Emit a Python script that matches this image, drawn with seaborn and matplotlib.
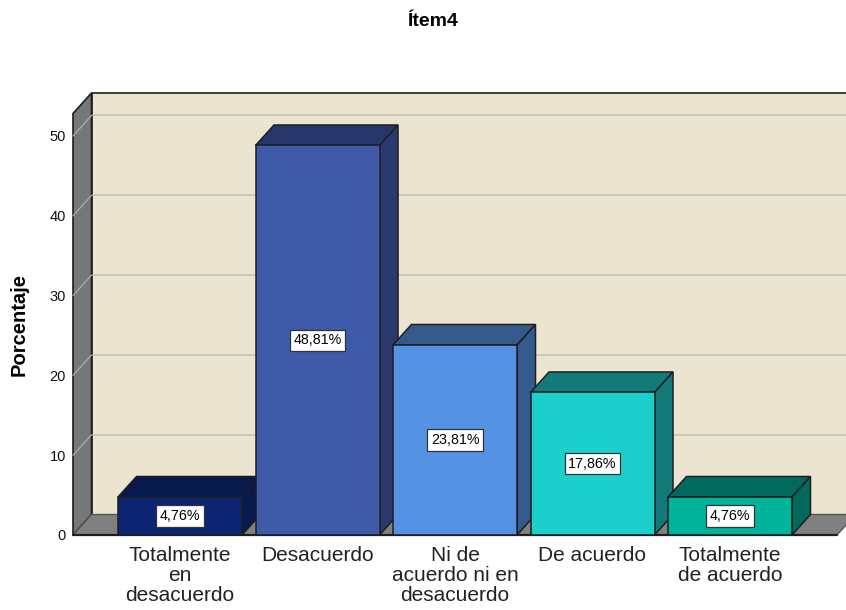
import matplotlib
matplotlib.use("Agg")
import matplotlib.pyplot as plt
from matplotlib.patches import Polygon
import seaborn as sns
import pandas as pd

# Chart data
categorias = ["Totalmente\nen\ndesacuerdo", "Desacuerdo", "Ni de\nacuerdo ni en\ndesacuerdo",
              "De acuerdo", "Totalmente\nde acuerdo"]
porcentajes = [4.76, 48.81, 23.81, 17.86, 4.76]
etiquetas_valor = ["4,76%", "48,81%", "23,81%", "17,86%", "4,76%"]
ticks_y = [0, 10, 20, 30, 40, 50]
titulo = "Ítem4"
eje_y = "Porcentaje"

# Face colours of each 3D bar: front, top, side
frente = ["#0b2572", "#3f5aa8", "#5592e4", "#1ccfcc", "#00b39b"]
arriba = ["#081a4c", "#27376b", "#345a8c", "#127b79", "#006b5d"]
lado = ["#071a4e", "#2a3a6e", "#34598c", "#127b79", "#006b5d"]

sns.set_theme(style="white")
plt.rcParams["font.family"] = ["Liberation Sans", "DejaVu Sans"]

W, H = 846, 610
fig = plt.figure(figsize=(W / 100, H / 100), dpi=100)
# axes span the whole 3D box (front plane + depth)
ax = fig.add_axes([73 / W, (H - 535) / H, (846 - 73) / W, (535 - 93) / H])

px_x = 137.5          # pixels per category
px_y = 7.98           # pixels per percentage unit
x_left = (73 - 180) / px_x
x_right = (846 - 180) / px_x
x_floor = (837 - 180) / px_x
y_top = (535 - 93) / px_y
dx = 18.5 / px_x      # depth offset (x)
dy = 20.5 / px_y      # depth offset (y)

edge = "#1e1e1e"
pared = "#ebe4d0"
gris_lado = "#777777"
gris_piso = "#808080"
grid_col = "#c9c4b4"

# front faces of bars
df = pd.DataFrame({"categoria": categorias, "porcentaje": porcentajes})
sns.barplot(data=df, x="categoria", y="porcentaje", hue="categoria", palette=frente,
            legend=False, width=124 / px_x, saturation=1, ax=ax,
            edgecolor=edge, linewidth=1.1)
ax.set_xlim(x_left, x_right)
ax.set_ylim(0, y_top)
for s in ax.spines.values():
    s.set_visible(False)
ax.set_facecolor("none")

barras = [p for c in ax.containers for p in c]

# back wall
ax.add_patch(Polygon([(x_left + dx, dy), (x_right + 0.3, dy), (x_right + 0.3, y_top),
                      (x_left + dx, y_top)], closed=True, facecolor=pared,
                     edgecolor=edge, lw=1.2, zorder=1, clip_on=False))
# left wall
ax.add_patch(Polygon([(x_left, 0), (x_left + dx, dy), (x_left + dx, y_top),
                      (x_left, y_top - dy)], closed=True, facecolor=gris_lado,
                     edgecolor=edge, lw=1.2, zorder=2, clip_on=False))
# floor
ax.add_patch(Polygon([(x_left, 0), (x_floor, 0), (x_floor + dx, dy),
                      (x_left + dx, dy)], closed=True, facecolor=gris_piso,
                     edgecolor="#555555", lw=1.0, zorder=2, clip_on=False))
ax.plot([x_left, x_floor], [0, 0], color=edge, lw=1.6, zorder=3, clip_on=False)

# gridlines on the back wall and the left wall
for v in ticks_y[1:]:
    ax.plot([x_left + dx, x_right + 0.3], [v + dy, v + dy], color=grid_col, lw=1.3,
            zorder=1.5, clip_on=False)
    ax.plot([x_left, x_left + dx], [v, v + dy], color="#a9a9a9", lw=1.0,
            zorder=2.5, clip_on=False)

for i, p in enumerate(barras):
    z = 10 + 3 * i
    p.set_zorder(z + 2)
    x0 = p.get_x()
    x1 = x0 + p.get_width()
    h = p.get_height()
    ax.add_patch(Polygon([(x0, h), (x1, h), (x1 + dx, h + dy), (x0 + dx, h + dy)],
                         closed=True, facecolor=arriba[i], edgecolor=edge, lw=1.1, zorder=z))
    ax.add_patch(Polygon([(x1, 0), (x1 + dx, dy), (x1 + dx, h + dy), (x1, h)],
                         closed=True, facecolor=lado[i], edgecolor=edge, lw=1.1, zorder=z))
    ax.text(x0 + p.get_width() / 2, h / 2, etiquetas_valor[i], ha="center", va="center",
            fontsize=10.3, color="black", zorder=z + 2.5,
            bbox=dict(boxstyle="square,pad=0.25", facecolor="white", edgecolor="#333333", lw=0.9))

# axes labels
ax.set_yticks(ticks_y)
ax.set_yticklabels([str(t) for t in ticks_y], fontsize=10.5, color="#111111")
ax.tick_params(axis="y", length=0, pad=5)
ax.set_xticks(range(len(categorias)))
ax.set_xticklabels(categorias, fontsize=15, color="#222222", linespacing=1.05)
ax.tick_params(axis="x", length=0, pad=8)
ax.set_xlabel("")
ax.set_ylabel(eje_y, fontsize=14.5, fontweight="bold", color="black")
ax.yaxis.set_label_coords(-44 / (846 - 73), (535 - 325) / (535 - 93))

fig.text(432 / W, 1 - 21 / H, titulo, ha="center", va="center", fontsize=14,
         fontweight="bold", color="black")

fig.savefig("out.png", dpi=100)
